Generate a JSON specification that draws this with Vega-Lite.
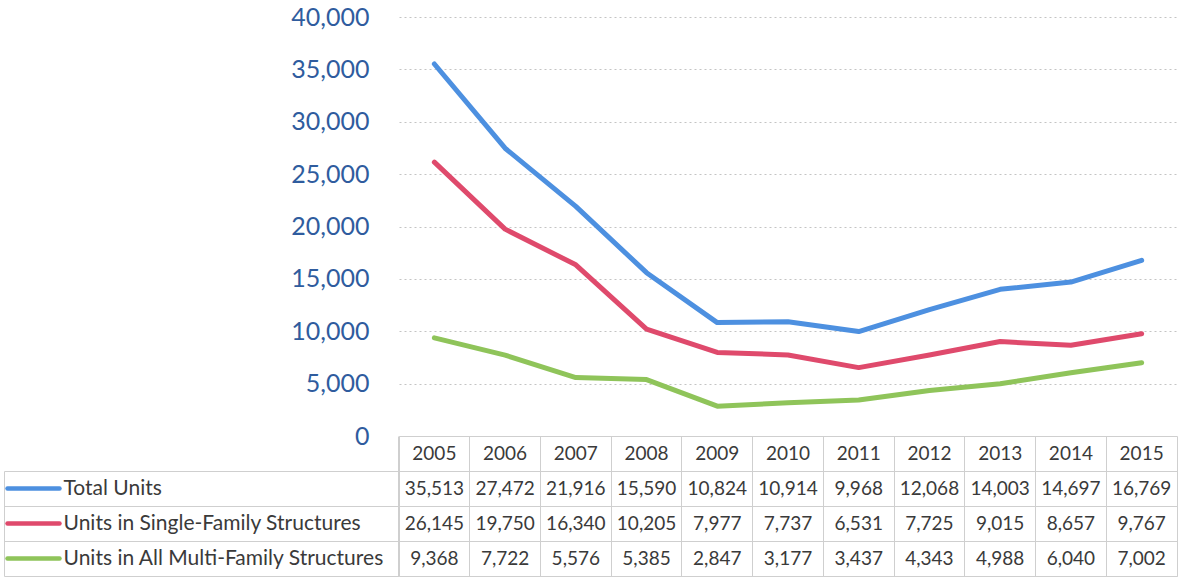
{
  "$schema": "https://vega.github.io/schema/vega-lite/v6.json",
  "background": "white",
  "padding": {"left": 3, "top": 5, "right": 3, "bottom": 1},
  "bounds": "flush",
  "spacing": 0,
  "config": {"font": "Lato", "view": {"stroke": null}},
  "data": {"values": [
    {"year": "2005", "series": "Total Units", "value": 35513},
    {"year": "2006", "series": "Total Units", "value": 27472},
    {"year": "2007", "series": "Total Units", "value": 21916},
    {"year": "2008", "series": "Total Units", "value": 15590},
    {"year": "2009", "series": "Total Units", "value": 10824},
    {"year": "2010", "series": "Total Units", "value": 10914},
    {"year": "2011", "series": "Total Units", "value": 9968},
    {"year": "2012", "series": "Total Units", "value": 12068},
    {"year": "2013", "series": "Total Units", "value": 14003},
    {"year": "2014", "series": "Total Units", "value": 14697},
    {"year": "2015", "series": "Total Units", "value": 16769},
    {"year": "2005", "series": "Units in Single-Family Structures", "value": 26145},
    {"year": "2006", "series": "Units in Single-Family Structures", "value": 19750},
    {"year": "2007", "series": "Units in Single-Family Structures", "value": 16340},
    {"year": "2008", "series": "Units in Single-Family Structures", "value": 10205},
    {"year": "2009", "series": "Units in Single-Family Structures", "value": 7977},
    {"year": "2010", "series": "Units in Single-Family Structures", "value": 7737},
    {"year": "2011", "series": "Units in Single-Family Structures", "value": 6531},
    {"year": "2012", "series": "Units in Single-Family Structures", "value": 7725},
    {"year": "2013", "series": "Units in Single-Family Structures", "value": 9015},
    {"year": "2014", "series": "Units in Single-Family Structures", "value": 8657},
    {"year": "2015", "series": "Units in Single-Family Structures", "value": 9767},
    {"year": "2005", "series": "Units in All Multi-Family Structures", "value": 9368},
    {"year": "2006", "series": "Units in All Multi-Family Structures", "value": 7722},
    {"year": "2007", "series": "Units in All Multi-Family Structures", "value": 5576},
    {"year": "2008", "series": "Units in All Multi-Family Structures", "value": 5385},
    {"year": "2009", "series": "Units in All Multi-Family Structures", "value": 2847},
    {"year": "2010", "series": "Units in All Multi-Family Structures", "value": 3177},
    {"year": "2011", "series": "Units in All Multi-Family Structures", "value": 3437},
    {"year": "2012", "series": "Units in All Multi-Family Structures", "value": 4343},
    {"year": "2013", "series": "Units in All Multi-Family Structures", "value": 4988},
    {"year": "2014", "series": "Units in All Multi-Family Structures", "value": 6040},
    {"year": "2015", "series": "Units in All Multi-Family Structures", "value": 7002}
  ]},
  "vconcat": [
    {
      "width": 778,
      "height": 419,
      "mark": {"type": "line", "strokeWidth": 5, "strokeCap": "round", "strokeJoin": "round"},
      "encoding": {
        "x": {"field": "year", "type": "ordinal", "scale": {"type": "point", "padding": 0.5}, "axis": null},
        "y": {
          "field": "value", "type": "quantitative",
          "scale": {"domain": [0, 40000]},
          "axis": {
            "values": [0, 5000, 10000, 15000, 20000, 25000, 30000, 35000, 40000],
            "format": ",d",
            "title": null,
            "domain": false,
            "ticks": false,
            "labelPadding": 30,
            "labelFontSize": 25,
            "labelColor": "#2f5c9e",
            "gridColor": "#c4c4c4",
            "gridDash": [2, 3],
            "gridWidth": 1
          }
        },
        "color": {
          "field": "series", "type": "nominal",
          "scale": {
            "domain": ["Total Units", "Units in Single-Family Structures", "Units in All Multi-Family Structures"],
            "range": ["#4d90e0", "#df4a6c", "#8fc45a"]
          },
          "legend": null
        }
      }
    },
    {
      "width": 778,
      "height": 140,
      "view": {"stroke": "#cfcfcf", "strokeWidth": 1},
      "encoding": {
        "x": {
          "field": "year", "type": "ordinal",
          "scale": {"type": "band", "paddingInner": 0, "paddingOuter": 0},
          "axis": {"orient": "top", "title": null, "labels": false, "ticks": false, "domain": false, "grid": true, "bandPosition": 0, "gridColor": "#cfcfcf", "gridDash": [], "gridWidth": 1}
        }
      },
      "layer": [
        {
          "mark": {"type": "text", "fontSize": 19, "color": "#3a3a3a", "font": "Lato"},
          "encoding": {
            "y": {
              "field": "series", "type": "nominal",
              "scale": {"type": "band", "domain": ["Year", "Total Units", "Units in Single-Family Structures", "Units in All Multi-Family Structures"], "paddingInner": 0, "paddingOuter": 0},
              "axis": {"orient": "left", "title": null, "labels": false, "domain": false, "ticks": true, "bandPosition": 1, "tickSize": 395, "tickColor": "#cfcfcf", "tickWidth": 1, "grid": true, "gridColor": "#cfcfcf", "gridDash": [], "gridWidth": 1}
            },
            "text": {"field": "value", "type": "quantitative", "format": ","}
          }
        },
        {
          "transform": [{"filter": "datum.series === 'Total Units'"}],
          "mark": {"type": "text", "fontSize": 19, "color": "#3a3a3a", "font": "Lato"},
          "encoding": {
            "y": {
              "datum": "Year", "type": "nominal",
              "axis": {
                "orient": "left",
                "title": null, "domain": false, "grid": false, "offset": 340,
                "bandPosition": 0.5, "tickSize": 52, "tickWidth": 4.5, "tickCap": "round",
                "tickColor": {"condition": [
                  {"test": "datum.value === 'Total Units'", "value": "#4d90e0"},
                  {"test": "datum.value === 'Units in Single-Family Structures'", "value": "#df4a6c"},
                  {"test": "datum.value === 'Units in All Multi-Family Structures'", "value": "#8fc45a"}
                ], "value": "transparent"},
                "labelExpr": "datum.value === 'Year' ? '' : datum.value",
                "labelAlign": "left",
                "labelPadding": -56,
                "labelLimit": 500,
                "labelFontSize": 21,
                "labelColor": "#3a3a3a",
                "labelFont": "Lato"
              }
            },
            "text": {"field": "year", "type": "nominal"}
          }
        },
        {
          "mark": {"type": "text", "text": ""},
          "encoding": {
            "y": {
              "field": "series", "type": "nominal",
              "axis": {"orient": "left", "title": null, "labels": false, "ticks": false, "grid": false, "offset": 395, "domain": true, "domainColor": "#cfcfcf", "domainWidth": 1, "domainDash": [0, 35, 105, 0]}
            }
          }
        }
      ],
      "resolve": {"axis": {"y": "independent"}}
    }
  ]
}
